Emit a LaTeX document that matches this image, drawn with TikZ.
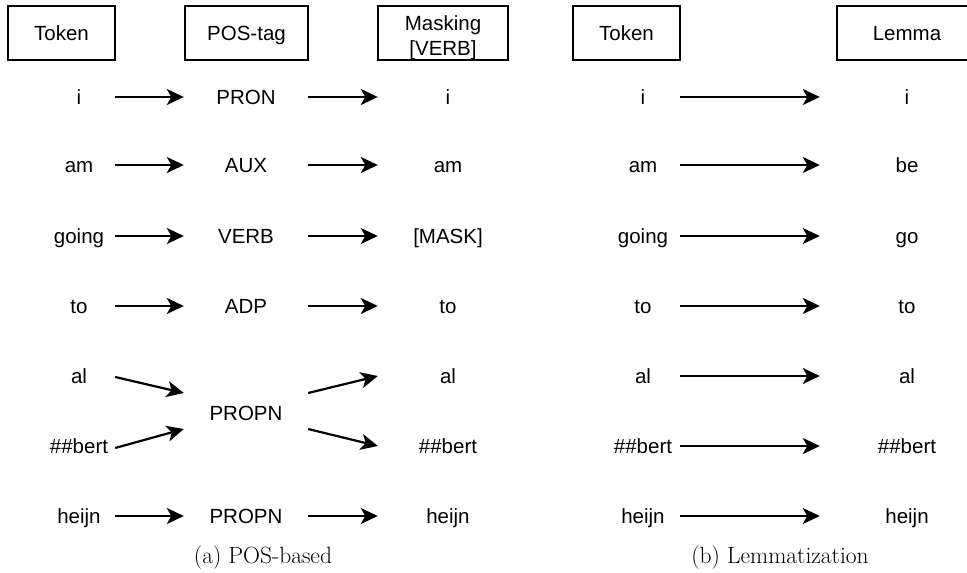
\documentclass[tikz,border=0pt]{standalone}
\usepackage{fontspec}
\setmainfont{Liberation Sans}
\newfontfamily\capfont{Latin Modern Roman}
\usetikzlibrary{arrows.meta,calc}
\tikzset{
  hdrbox/.style={draw, line width=1.5pt, minimum height=54pt, inner sep=0pt, align=center},
  hdrone/.style={hdrbox, text height=15pt, text depth=0pt},
  tok/.style={inner sep=0pt, text height=15pt, text depth=0pt},
  link/.style={line width=2.2pt, -{Stealth[length=17pt,width=16pt,inset=4.5pt]}},
  subcap/.style={font=\capfont\fontsize{23.5}{26}\selectfont, inner sep=0pt}
}
\begin{document}
\begin{tikzpicture}[x=1pt,y=-1pt,font=\fontsize{20.5}{24}\selectfont]
\useasboundingbox (0,0) rectangle (967,573);
\clip (0,0) rectangle (967,573);

% ---------- (a) POS-based ----------
\node[hdrone, minimum width=107pt] (ha1) at (61.5,33) {Token};
\node[hdrone, minimum width=123pt] (ha2) at (246.5,33) {POS-tag};
\node[hdrbox, minimum width=130pt] (ha3) at (443,33) {\rule{0pt}{25pt}Masking\\[1pt][VERB]};

\foreach \n/\y/\a/\b/\c in {1/97/i/PRON/i, 2/165/am/AUX/am, 3/236/going/VERB/[MASK], 4/306/to/ADP/to, 7/516/heijn/PROPN/heijn}{
  \node[tok, minimum width=72pt]  (at\n) at (79,\y)  {\a};
  \node[tok, minimum width=124pt] (ap\n) at (246,\y) {\b};
  \node[tok, minimum width=140pt] (am\n) at (448,\y) {\c};
  \draw[link] (at\n) -- (ap\n);
  \draw[link] (ap\n) -- (am\n);
}

\node[tok, minimum width=72pt]  (at5) at (79,376)  {al};
\node[tok, minimum width=72pt]  (at6) at (79,446)  {\#\#bert};
\node[tok, minimum width=124pt] (ap56) at (246,413) {PROPN};
\node[tok, minimum width=140pt] (am5) at (448,376) {al};
\node[tok, minimum width=140pt] (am6) at (448,446) {\#\#bert};

\draw[link] ([yshift=-1pt]at5.east) -- ([yshift=20pt]ap56.west);
\draw[link] ([yshift=-2pt]at6.east) -- ([yshift=-16pt]ap56.west);
\draw[link] ([yshift=20pt]ap56.east) -- (am5.west);
\draw[link] ([yshift=-16pt]ap56.east) -- (am6.west);

\node[subcap] (capa) at (263,558) {(a) POS-based};

% ---------- (b) Lemmatization ----------
\node[hdrone, minimum width=107pt] (hb1) at (626.5,33) {Token};
\node[hdrone, minimum width=140pt] (hb2) at (907,33) {Lemma};

\foreach \n/\y/\a/\b in {1/97/i/i, 2/165/am/be, 3/236/going/go, 4/306/to/to, 5/376/al/al, 6/446/\#\#bert/\#\#bert, 7/516/heijn/heijn}{
  \node[tok, minimum width=74pt]  (bt\n) at (643,\y) {\a};
  \node[tok, minimum width=174pt] (bl\n) at (907,\y) {\b};
  \draw[link] (bt\n) -- (bl\n);
}

\node[subcap] (capb) at (780,558) {(b) Lemmatization};
\end{tikzpicture}
\end{document}
